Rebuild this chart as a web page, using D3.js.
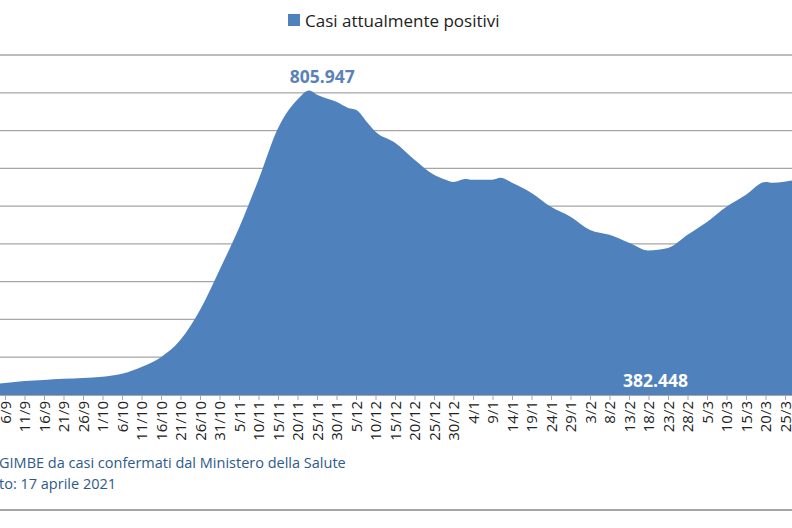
<!DOCTYPE html>
<html><head><meta charset="utf-8">
<script src="https://cdn.jsdelivr.net/npm/d3@7"></script>
<style>body{margin:0;background:#fff}svg{display:block}</style>
</head><body>
<script>
const dates = ["2020-09-01","2020-09-06","2020-09-11","2020-09-16","2020-09-21","2020-09-26","2020-10-01","2020-10-06","2020-10-11","2020-10-16","2020-10-21","2020-10-26","2020-10-31","2020-11-05","2020-11-10","2020-11-15","2020-11-20","2020-11-23","2020-11-25","2020-11-30","2020-12-03","2020-12-05","2020-12-08","2020-12-10","2020-12-15","2020-12-20","2020-12-25","2020-12-28","2020-12-30","2021-01-02","2021-01-04","2021-01-09","2021-01-11","2021-01-14","2021-01-19","2021-01-24","2021-01-29","2021-02-03","2021-02-08","2021-02-13","2021-02-18","2021-02-23","2021-02-28","2021-03-05","2021-03-10","2021-03-15","2021-03-20","2021-03-22","2021-03-28"];
const values = [26000,32000,37000,40000,43000,45000,48000,56000,74000,100000,146000,225000,331000,442000,570000,706000,782000,805947,795000,776000,760000,755000,720000,697000,668000,623000,583000,570000,564000,572000,570000,570000,575000,562000,535000,498000,472000,437000,424000,403000,382448,389000,424000,458000,498000,530000,564000,562000,570000];
const tickLabels = ["6/9","11/9","16/9","21/9","26/9","1/10","6/10","11/10","16/10","21/10","26/10","31/10","5/11","10/11","15/11","20/11","25/11","30/11","5/12","10/12","15/12","20/12","25/12","30/12","4/1","9/1","14/1","19/1","24/1","29/1","3/2","8/2","13/2","18/2","23/2","28/2","5/3","10/3","15/3","20/3","25/3"];
const yTicks = [0,100000,200000,300000,400000,500000,600000,700000,800000,900000];
const series = "Casi attualmente positivi";
const peakLabel = "805.947", minLabel = "382.448";
const source1 = "GIMBE da casi confermati dal Ministero della Salute";
const source2 = "to: 17 aprile 2021";

const W=792,H=528;
const parse=d3.timeParse("%Y-%m-%d");
const data=dates.map((d,i)=>({d:parse(d),v:values[i]}));
const x=d3.scaleTime().domain([parse("2020-09-06"),parse("2021-03-25")]).range([5,785]);
const y=d3.scaleLinear().domain([0,900000]).range([395,55]);
const svg=d3.select("body").append("svg").attr("width",W).attr("height",H);
const font="'Open Sans', 'Liberation Sans', sans-serif";

svg.append("g").selectAll("line").data(yTicks.slice(1)).join("line")
 .attr("x1",0).attr("x2",W).attr("y1",d=>y(d)).attr("y2",d=>y(d))
 .attr("stroke","#a6a6a6").attr("stroke-width",1.3);

svg.append("path").datum(data).attr("fill","#4f81bd")
 .attr("d",d3.area().x(d=>x(d.d)).y0(y(0)).y1(d=>y(d.v)).curve(d3.curveMonotoneX));

svg.append("line").attr("x1",0).attr("x2",W).attr("y1",y(0)+0.5).attr("y2",y(0)+0.5).attr("stroke","#a6a6a6");

const tp=d3.timeParse("%d/%m/%Y");
const tickDates=tickLabels.map(t=>{const [dd,mm]=t.split("/");return tp(`${dd}/${mm}/${+mm>=9?2020:2021}`);});
const xAxis=d3.axisBottom(x).tickValues(tickDates).tickFormat((d,i)=>tickLabels[i]).tickSize(5).tickSizeOuter(0);
const ga=svg.append("g").attr("transform",`translate(0,${y(0)})`).call(xAxis);
ga.select(".domain").remove();
ga.selectAll("line").attr("stroke","#a6a6a6");
ga.selectAll("text").attr("transform","rotate(-90)").attr("text-anchor","end")
 .attr("x",-6).attr("y",0).attr("dy","0.35em").attr("font-size",15).attr("font-family",font).attr("fill","#222");

svg.append("rect").attr("x",288).attr("y",14).attr("width",12).attr("height",12).attr("fill","#4f81bd");
svg.append("text").attr("x",305).attr("y",27).attr("font-size",17).attr("font-family",font).attr("fill","#222").text(series);

svg.append("text").attr("x",x(parse("2020-11-23"))+13).attr("y",83).attr("text-anchor","middle")
 .attr("font-size",17.5).attr("font-weight","bold").attr("font-family",font).attr("fill","#5b82b8").text(peakLabel);
svg.append("text").attr("x",x(parse("2021-02-18"))+7).attr("y",387).attr("text-anchor","middle")
 .attr("font-size",17.5).attr("font-weight","bold").attr("font-family",font).attr("fill","#fff").text(minLabel);

svg.append("text").attr("x",-1).attr("y",468).attr("font-size",14.5).attr("font-family",font).attr("fill","#2e5a8a").text(source1);
svg.append("text").attr("x",-1).attr("y",489).attr("font-size",14.5).attr("font-family",font).attr("fill","#2e5a8a").text(source2);
svg.append("line").attr("x1",0).attr("x2",W).attr("y1",510).attr("y2",510).attr("stroke","#888").attr("stroke-width",1.5);
</script>
</body></html>
